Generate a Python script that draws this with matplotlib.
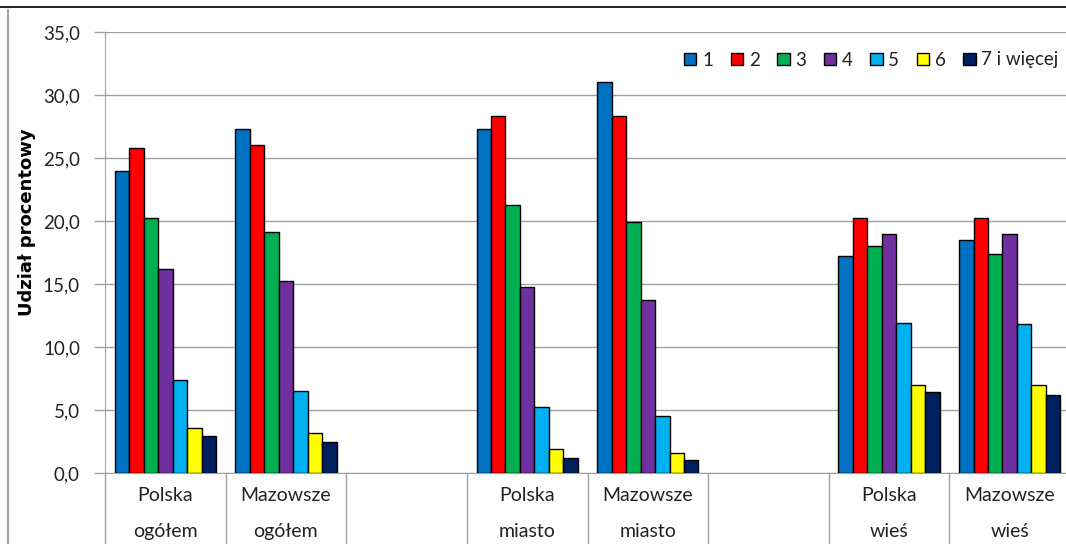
import matplotlib
matplotlib.use("Agg")
import matplotlib.pyplot as plt
import matplotlib.transforms as mtransforms
from matplotlib.lines import Line2D
from matplotlib.patches import Patch
import numpy as np

plt.rcParams['font.family'] = ['Lato', 'DejaVu Sans']

# categories (empty slots are blank columns in the original chart)
categories = ["Polska\nogółem", "Mazowsze\nogółem", "", "Polska\nmiasto", "Mazowsze\nmiasto",
              "", "Polska\nwieś", "Mazowsze\nwieś"]
series_names = ["1", "2", "3", "4", "5", "6", "7 i więcej"]
nan = np.nan
s1 = [24.0, 27.3, nan, 27.3, 31.0, nan, 17.2, 18.5]
s2 = [25.8, 26.0, nan, 28.3, 28.3, nan, 20.2, 20.2]
s3 = [20.2, 19.1, nan, 21.3, 19.9, nan, 18.0, 17.4]
s4 = [16.2, 15.2, nan, 14.8, 13.7, nan, 19.0, 19.0]
s5 = [7.4, 6.5, nan, 5.2, 4.5, nan, 11.9, 11.8]
s6 = [3.6, 3.2, nan, 1.9, 1.6, nan, 7.0, 7.0]
s7 = [2.9, 2.5, nan, 1.2, 1.0, nan, 6.4, 6.2]
series = [s1, s2, s3, s4, s5, s6, s7]
colors = ["#0070C0", "#FF0000", "#00B050", "#7030A0", "#00B0F0", "#FFFF00", "#002060"]

W, H = 1066, 544
fig = plt.figure(figsize=(W / 100, H / 100), dpi=100)
ax = fig.add_axes([105 / W, 71 / H, 965 / W, 441 / H])

x = np.arange(len(categories))
bw = 0.12
for i, (vals, c) in enumerate(zip(series, colors)):
    ax.bar(x + (i - 3) * bw, vals, bw, color=c, edgecolor="black", linewidth=1.0, zorder=3)

ax.set_xlim(-0.5, len(categories) - 0.5)
ax.set_ylim(0, 35)
yt = np.arange(0, 36, 5)
ax.set_yticks(yt, [f"{v:.1f}".replace(".", ",") for v in yt])
ax.set_xticks(x, categories)
ax.tick_params(axis="y", length=8, width=1, color="#A0A0A0", pad=10, labelsize=13.5, labelcolor="#222222")
ax.tick_params(axis="x", length=0, pad=10, labelsize=14, labelcolor="#222222")
for lab in ax.get_xticklabels():
    lab.set_linespacing(2.4)
ax.grid(axis="y", color="#A0A0A0", linewidth=1.0, zorder=0)
for s in ["top", "right"]:
    ax.spines[s].set_visible(False)
ax.spines["left"].set_color("#A0A0A0")
ax.spines["bottom"].set_color("#A0A0A0")
ax.set_ylabel("Udział procentowy", fontweight="bold", fontsize=13, family=["DejaVu Sans"])
ax.yaxis.set_label_coords(-69 / 965, (473 - 222) / 441)

# category separators below the axis
trans = mtransforms.blended_transform_factory(ax.transData, ax.transAxes)
for b in np.arange(-0.5, len(categories), 1.0):
    ax.add_line(Line2D([b, b], [0, -0.2], transform=trans, color="#A0A0A0", linewidth=1.0, clip_on=False))

handles = [Patch(facecolor=c, edgecolor="black", linewidth=1.0) for c in colors]
fig.legend(handles, series_names, loc="center right", bbox_to_anchor=(1.0, 1 - 60 / H),
           ncol=7, frameon=False, fontsize=13.5, handlelength=0.65, handleheight=0.65,
           handletextpad=0.3, columnspacing=0.95, borderaxespad=0, labelcolor="#222222")

# outer frame lines
fig.add_artist(Line2D([0, 1], [1 - 7 / H, 1 - 7 / H], transform=fig.transFigure, color="black", linewidth=1.2))
fig.add_artist(Line2D([8 / W, 8 / W], [0, 1 - 10 / H], transform=fig.transFigure, color="#A0A0A0", linewidth=1.5))

fig.savefig("out.png", dpi=100)
